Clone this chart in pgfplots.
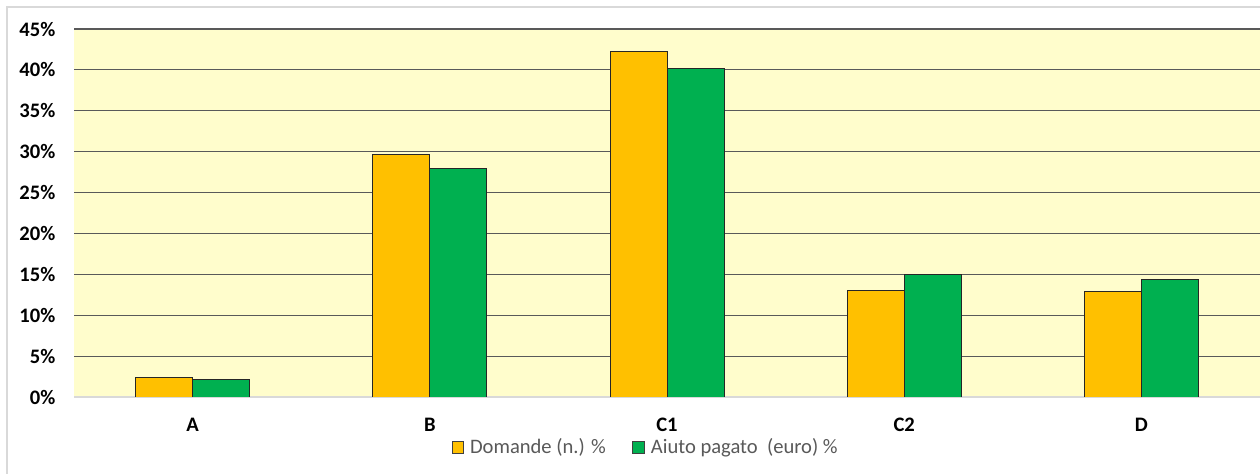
\documentclass[border=0pt]{standalone}
\usepackage{pgfplots}
\pgfplotsset{compat=1.18}
\usepackage{fontspec}
\setmainfont{Carlito}
\definecolor{barorange}{HTML}{FFC000}
\definecolor{bargreen}{HTML}{00B050}
\definecolor{plotbg}{HTML}{FFFDCC}
\definecolor{frame}{HTML}{D9D9D9}
\definecolor{gridc}{HTML}{595959}
\definecolor{legtext}{HTML}{595959}
\begin{document}
\begin{tikzpicture}
\useasboundingbox (0,0) rectangle (945bp,355.5bp);
\fill[white] (0,0) rectangle (945bp,355.5bp);
% chart frame (right and bottom edges fall outside the picture)
\draw[frame, line width=1.5bp] (4.9bp,0) -- (4.9bp,350.6bp) -- (946bp,350.6bp);
\begin{axis}[
    at={(55.5bp,57.75bp)}, anchor=south west,
    scale only axis,
    width=889.5bp, height=276bp,
    ybar=0pt, bar width=42.75bp,
    xmin=-0.5, xmax=4.5,
    ymin=0, ymax=45,
    xtick=data,
    xticklabels={A,B,C1,C2,D},
    ytick={5,10,...,45},
    extra y ticks={0},
    extra y tick style={grid style={frame, line width=1.2bp}},
    ymajorgrids,
    grid style={gridc, line width=0.9bp},
    major tick length=0pt,
    axis line style={draw=none},
    axis background/.style={fill=plotbg},
    yticklabel={\pgfmathprintnumber[assume math mode=true]{\tick}\%},
    tick label style={font=\fontsize{15.5}{18}\selectfont\bfseries},
    yticklabel style={xshift=-10.5bp},
    xticklabel style={yshift=-12.5bp},
    legend style={at={(0.4823,-0.136)}, anchor=center, draw=none, fill=none,
        legend columns=2, font=\fontsize{15.5}{18}\selectfont\color{legtext},
        /tikz/every even column/.append style={column sep=18bp}},
    legend image code/.code={\path[draw=none, fill=none] (0bp,0bp) -- (11.5bp,0bp);
        \draw[#1, draw=black!75, line width=0.6bp] (0bp,-4.4bp) rectangle (8.8bp,4.4bp);},
]
\addplot[fill=barorange, draw=black!85, line width=0.75bp] coordinates {(0,2.4) (1,29.6) (2,42.2) (3,13.0) (4,12.9)};
\addplot[fill=bargreen, draw=black!85, line width=0.75bp] coordinates {(0,2.2) (1,28.0) (2,40.2) (3,15.0) (4,14.4)};
\legend{Domande (n.) \%, Aiuto pagato\ \ (euro) \%}
\end{axis}
\end{tikzpicture}
\end{document}
